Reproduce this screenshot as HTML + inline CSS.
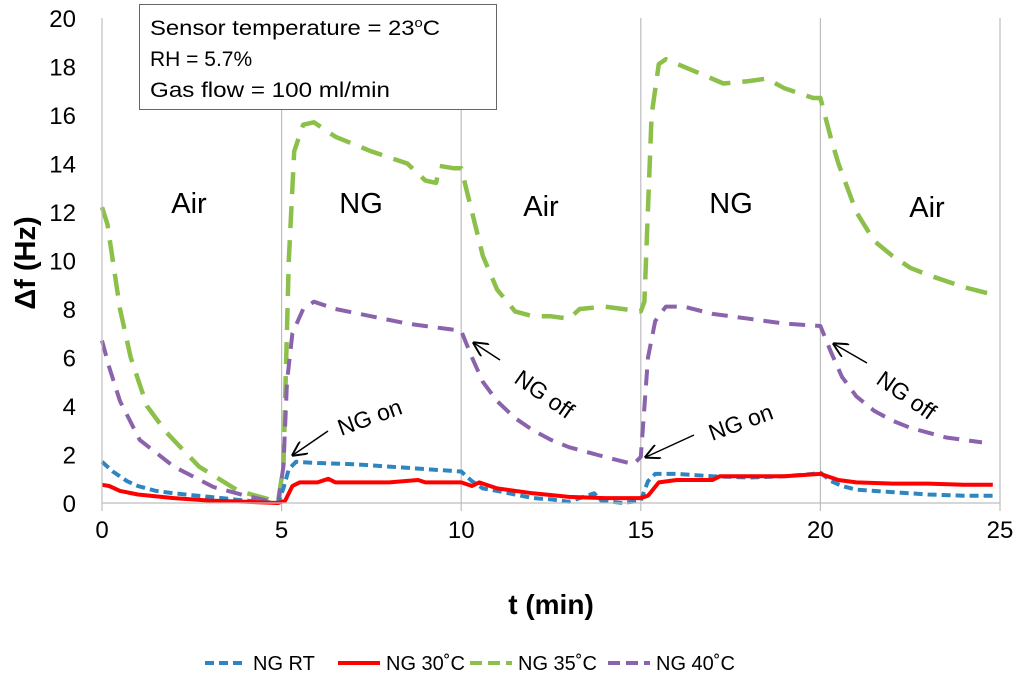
<!DOCTYPE html>
<html><head><meta charset="utf-8"><style>
body{margin:0;background:#fff;font-family:"Liberation Sans","DejaVu Sans",sans-serif}
svg text{font-family:"Liberation Sans","DejaVu Sans",sans-serif}
</style></head><body>
<svg id="chart" width="1024" height="680" viewBox="0 0 1024 680" xmlns="http://www.w3.org/2000/svg">
<g id="grid"></g>
<g id="series"></g>
<g id="axes"></g>
<g>
<rect x="139.5" y="4.5" width="357" height="105" fill="#fff" stroke="#666" stroke-width="1"/>
<text x="150" y="35" font-size="21" textLength="290" lengthAdjust="spacingAndGlyphs">Sensor temperature = 23<tspan font-size="13" dy="-8">o</tspan><tspan dy="8">C</tspan></text>
<text x="150" y="66" font-size="21">RH = 5.7%</text>
<text x="150" y="97" font-size="21" textLength="240" lengthAdjust="spacingAndGlyphs">Gas flow = 100 ml/min</text>
</g>
<g font-size="29" text-anchor="middle">
<text x="189" y="213">Air</text>
<text x="361" y="213">NG</text>
<text x="541" y="216">Air</text>
<text x="731" y="213">NG</text>
<text x="927" y="217">Air</text>
</g>
<defs><marker id="ah" markerWidth="10" markerHeight="10" refX="9" refY="5" orient="auto"><path d="M0,0 L10,5 L0,10" fill="none" stroke="#000" stroke-width="1.3"/></marker></defs>
<g font-size="23">
<line x1="328" y1="431" x2="293" y2="455" stroke="#000" stroke-width="1.5" marker-end="url(#ah)"/>
<text x="370" y="425" text-anchor="middle" transform="rotate(-20 370 418)">NG on</text>
<line x1="694" y1="435" x2="646" y2="457" stroke="#000" stroke-width="1.5" marker-end="url(#ah)"/>
<text x="741" y="430" text-anchor="middle" transform="rotate(-20 741 423)">NG on</text>
<line x1="500" y1="360" x2="474" y2="343" stroke="#000" stroke-width="1.5" marker-end="url(#ah)"/>
<text x="544" y="402" text-anchor="middle" transform="rotate(35 544 395)">NG off</text>
<line x1="867" y1="363" x2="834" y2="344" stroke="#000" stroke-width="1.5" marker-end="url(#ah)"/>
<text x="906" y="403" text-anchor="middle" transform="rotate(35 906 396)">NG off</text>
</g>
<text x="551" y="614" font-size="28" font-weight="bold" text-anchor="middle">t (min)</text>
<text x="0" y="0" font-size="29" font-weight="bold" text-anchor="middle" transform="translate(35 263) rotate(-90)">Δf (Hz)</text>
<g id="legend" font-size="20"></g>
</svg>
<script>
const xTicks=[0,5,10,15,20,25];
const yTicks=[0,2,4,6,8,10,12,14,16,18,20];
const seriesNames=["NG RT","NG 30˚C","NG 35˚C","NG 40˚C"];
const tRT=[0,0.3,0.7,1,1.5,2,3,4,4.9,5.05,5.2,5.4,6,7,8,9,9.5,10,10.3,10.6,11,11.5,12,12.5,13,13.5,13.7,13.9,14.5,15,15.2,15.4,16,17,18,19,19.8,20,20.3,20.6,21,22,23,24,24.8];
const vRT=[1.7,1.3,0.9,0.7,0.5,0.4,0.25,0.1,0,0.6,1.4,1.7,1.65,1.6,1.5,1.4,1.35,1.3,0.9,0.6,0.5,0.35,0.2,0.15,0.05,0.3,0.4,0.1,0,0.1,0.9,1.2,1.2,1.1,1.05,1.1,1.2,1.25,0.9,0.7,0.55,0.45,0.35,0.3,0.3];
const t30=[0,0.2,0.5,1,2,3,4,4.9,5.1,5.3,5.5,6,6.3,6.5,8,8.8,9,10,10.3,10.5,11,12,13,14,15,15.2,15.5,16,17,17.2,18,19,20,20.5,21,22,23,24,24.8];
const v30=[0.75,0.7,0.5,0.35,0.2,0.1,0.05,0,0.1,0.7,0.85,0.85,1.0,0.85,0.85,0.95,0.85,0.85,0.7,0.85,0.6,0.4,0.25,0.2,0.2,0.3,0.85,0.95,0.95,1.1,1.1,1.1,1.2,0.95,0.85,0.8,0.8,0.75,0.75];
const t35=[0,0.15,0.3,0.5,0.8,1.25,1.8,2.7,3.8,4.9,5.05,5.2,5.35,5.6,5.9,6.5,7.5,8.5,9,9.3,9.4,9.8,10,10.3,10.6,11,11.5,12,12.5,13,13.3,14,15,15.1,15.3,15.5,15.7,16.5,17.3,18,18.5,19,19.8,20,20.3,20.5,21,21.5,22,22.5,23,24,24.8];
const v35=[12.2,11.5,10,8,6,4.0,2.9,1.5,0.5,0.05,1.5,10,14.5,15.6,15.7,15.1,14.5,14.0,13.3,13.2,13.9,13.8,13.8,12,10.2,8.8,7.9,7.7,7.7,7.6,8.0,8.1,7.9,8.3,16,18.1,18.3,17.8,17.3,17.4,17.5,17.1,16.7,16.7,15,14,12,10.8,10.2,9.7,9.4,8.9,8.6];
const t40=[0,0.2,0.5,1.05,2,3.1,4,4.9,5.05,5.15,5.3,5.6,5.9,6.5,7.5,8.5,9.5,10,10.3,10.6,11,11.5,12,12.5,13,14,14.8,15,15.2,15.4,15.7,16.2,17,18,19,20,20.3,20.6,21,21.5,22,22.5,23,23.5,24,24.5];
const v40=[6.7,5.6,4.2,2.6,1.5,0.66,0.3,0,1.5,5,7,8.0,8.3,8.0,7.7,7.4,7.2,7.1,6.0,5.0,4.2,3.5,3.0,2.6,2.3,1.9,1.6,1.9,6,7.5,8.1,8.1,7.8,7.6,7.4,7.3,6.2,5.2,4.4,3.8,3.4,3.1,2.9,2.7,2.6,2.5];
const NS="http://www.w3.org/2000/svg";
const X0=102,X1=1000,Y0=503,Y1=18;
function sx(t){return X0+(t-0)/(25-0)*(X1-X0);}
function sy(v){return Y0-(v-0)/(20-0)*(Y0-Y1);}
function mk(tag,attrs,parent){const e=document.createElementNS(NS,tag);for(const k in attrs)e.setAttribute(k,attrs[k]);parent.appendChild(e);return e;}
const grid=document.getElementById('grid'),axes=document.getElementById('axes'),ser=document.getElementById('series'),leg=document.getElementById('legend');
xTicks.forEach(t=>{
  if(t>0){const g=mk('line',{x1:sx(t),x2:sx(t),y1:Y1,y2:Y0+8,stroke:'#bdbdbd','stroke-width':1.2},grid);
  
  }
  const tx=mk('text',{x:sx(t),y:538,'font-size':24,'text-anchor':'middle'},axes);tx.textContent=t;
  
  
});
const ax=mk('line',{x1:X0,x2:X1,y1:Y0,y2:Y0,stroke:'#bdbdbd','stroke-width':1.2},axes);


const ay=mk('line',{x1:X0,x2:X0,y1:Y1,y2:Y0+8,stroke:'#bdbdbd','stroke-width':1.2},axes);


yTicks.forEach(v=>{
  const tx=mk('text',{x:76,y:sy(v)+9,'font-size':24,'text-anchor':'end'},axes);tx.textContent=v;
  
  
});
const styles=[
 {c:'#2e86c1',d:'9 5',w:4,t:tRT,v:vRT,n:'series-ng-rt'},
 {c:'#ff0000',d:'',w:4,t:t30,v:v30,n:'series-ng-30c'},
 {c:'#8cc04b',d:'22 12',w:4.5,t:t35,v:v35,n:'series-ng-35c'},
 {c:'#8a63ac',d:'16 10',w:4,t:t40,v:v40,n:'series-ng-40c'}];
[2,3,0,1].forEach(i=>{const s=styles[i];
  const d=s.t.map((t,j)=>(j?'L':'M')+sx(t).toFixed(1)+','+sy(s.v[j]).toFixed(1)).join(' ');
  const p=mk('path',{d:d,fill:'none',stroke:s.c,'stroke-width':s.w,'stroke-dasharray':s.d,'stroke-linejoin':'round'},ser);
  
  
});
const lx=[205,338,470,608];
seriesNames.forEach((n,i)=>{const s=styles[i];
  const l=mk('line',{x1:lx[i],x2:lx[i]+42,y1:663,y2:663,stroke:s.c,'stroke-width':4,'stroke-dasharray':s.d?(i==0?'9 5':'12 6'):''},leg);
  
  
  const t=mk('text',{x:lx[i]+48,y:670},leg);t.textContent=n;
  
  
});
</script>
</body></html>
